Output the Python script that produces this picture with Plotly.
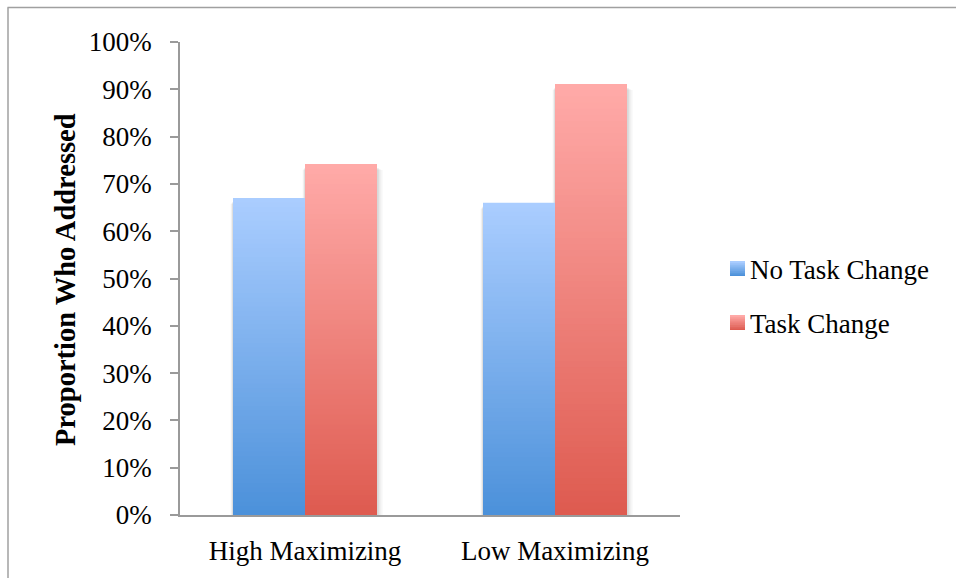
import plotly.graph_objects as go

# Data
categories = ["High Maximizing", "Low Maximizing"]
series_names = ["No Task Change", "Task Change"]
no_task_change = [0.67, 0.66]
task_change = [0.742, 0.911]
y_ticks = [0.0, 0.1, 0.2, 0.3, 0.4, 0.5, 0.6, 0.7, 0.8, 0.9, 1.0]

# Figure geometry (pixels)
W, H = 956, 578
PL, PR, PT, PB = 180, 680, 42, 515  # plot area edges

def px_x(x):
    return (x - PL) / (PR - PL)

def px_y(y):
    return (PB - y) / (PB - PT)

FONT = "Liberation Serif, Times New Roman, serif"
BAR_W = 0.288  # in category units
N_STEPS = 70

# gradient endpoints (top colour, bottom colour)
grads = {
    "No Task Change": ((170, 205, 255), (76, 145, 218)),
    "Task Change": ((255, 170, 168), (222, 91, 80)),
}

def mix(c1, c2, t):
    return "rgb(%d,%d,%d)" % tuple(round(a + (b - a) * t) for a, b in zip(c1, c2))

fig = go.Figure()

# soft drop shadow behind each bar
for name, vals, off in [(series_names[0], no_task_change, -BAR_W),
                        (series_names[1], task_change, 0.0)]:
    for k, (grow, drop, alpha) in enumerate([(8, 6, 0.035), (5, 5, 0.05), (2.5, 4, 0.07)]):
        gw = grow / 250.0
        fig.add_trace(go.Bar(
            x=categories, y=[v - drop / 473.0 for v in vals],
            offset=off - gw * 0.3, width=BAR_W + gw,
            marker=dict(color="rgba(0,0,0,%g)" % alpha, line=dict(width=0)),
            showlegend=False, hoverinfo="skip"))

# gradient bars: painted from full height (top colour) down to the bottom colour
for name, vals, off in [(series_names[0], no_task_change, -BAR_W),
                        (series_names[1], task_change, 0.0)]:
    top_c, bot_c = grads[name]
    for i in range(N_STEPS):
        frac = (N_STEPS - i) / N_STEPS
        t = i / (N_STEPS - 1)
        fig.add_trace(go.Bar(
            x=categories, y=[v * frac for v in vals],
            offset=off, width=BAR_W,
            marker=dict(color=mix(top_c, bot_c, t), line=dict(width=0)),
            name=name, showlegend=False,
            hovertemplate="%{x}<br>" + name + ": %{customdata:.0%}<extra></extra>",
            customdata=vals))

# custom legend: gradient squares + labels
shapes = []
annotations = []
legend_rows = [(series_names[0], 261, 276), (series_names[1], 315, 330)]
for name, y0, y1 in legend_rows:
    top_c, bot_c = grads[name]
    steps = 8
    for s in range(steps):
        ya = y0 + (y1 - y0) * s / steps
        yb = y0 + (y1 - y0) * (s + 1) / steps + 0.5
        shapes.append(dict(type="rect", xref="paper", yref="paper",
                           x0=px_x(730), x1=px_x(745), y0=px_y(min(yb, y1)), y1=px_y(ya),
                           fillcolor=mix(top_c, bot_c, s / (steps - 1)),
                           line=dict(width=0), layer="above"))
    annotations.append(dict(text=name, xref="paper", yref="paper",
                            x=px_x(748), y=px_y((y0 + y1) / 2 + 1),
                            xanchor="left", yanchor="middle", showarrow=False,
                            font=dict(family=FONT, size=27, color="black")))

# y-axis title
annotations.append(dict(text="<b>Proportion Who Addressed</b>", xref="paper", yref="paper",
                        x=px_x(65), y=px_y(280), textangle=-90,
                        xanchor="center", yanchor="middle", showarrow=False,
                        font=dict(family=FONT, size=28.5, color="black")))

# outer frame lines (top and left)
frame_col = "#a0a0a0"
shapes.append(dict(type="line", xref="paper", yref="paper",
                   x0=px_x(7.5), x1=px_x(W + 2), y0=px_y(7.5), y1=px_y(7.5),
                   line=dict(color=frame_col, width=1.5)))
shapes.append(dict(type="line", xref="paper", yref="paper",
                   x0=px_x(8), x1=px_x(8), y0=px_y(7.5), y1=px_y(H + 2),
                   line=dict(color=frame_col, width=1.5)))

axis_col = "#9a9a9a"
fig.update_layout(
    width=W, height=H,
    margin=dict(l=PL, r=W - PR, t=PT, b=H - PB),
    paper_bgcolor="white", plot_bgcolor="white",
    barmode="overlay",
    showlegend=False,
    shapes=shapes, annotations=annotations,
    xaxis=dict(
        type="category", categoryorder="array", categoryarray=categories,
        range=[-0.5, 1.5], automargin=False,
        showline=True, linecolor=axis_col, linewidth=1.5,
        ticks="", showgrid=False, zeroline=False,
        ticklabelstandoff=11,
        tickfont=dict(family=FONT, size=27, color="black"),
    ),
    yaxis=dict(
        range=[0, 1.0], tickvals=y_ticks, tickformat=".0%", automargin=False,
        showline=True, linecolor=axis_col, linewidth=1.5,
        ticks="outside", ticklen=8, tickcolor=axis_col, tickwidth=1.5,
        showgrid=False, zeroline=False,
        ticklabelstandoff=13,
        tickfont=dict(family=FONT, size=27, color="black"),
    ),
)

fig.write_html("out.html")
